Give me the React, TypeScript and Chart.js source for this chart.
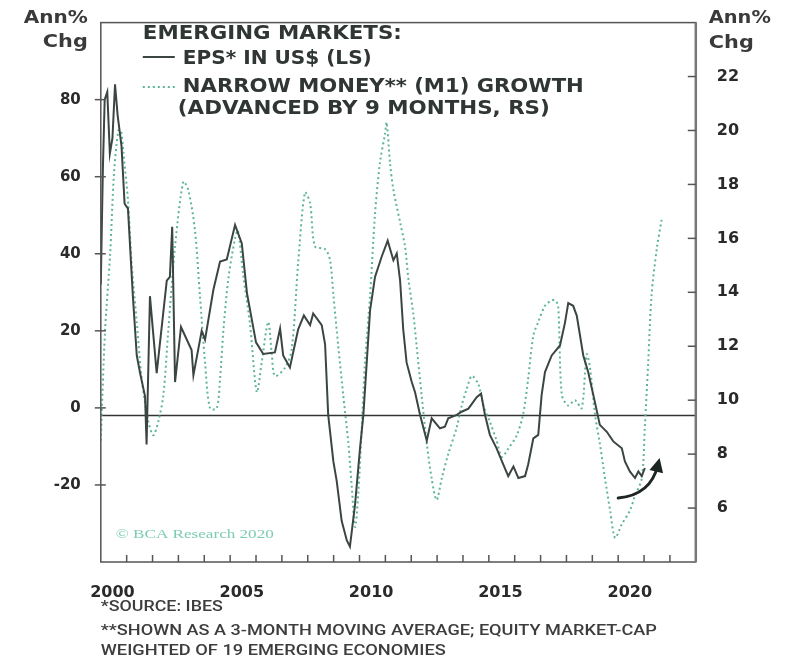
import React, { useEffect, useRef } from 'react';
import { Chart, registerables } from 'chart.js';

Chart.register(...registerables);

// ---------- DATA ----------
const epsYears = [2000.00, 2000.08, 2000.15, 2000.25, 2000.35, 2000.45, 2000.55, 2000.65, 2000.80, 2000.92, 2001.05, 2001.24, 2001.39, 2001.52, 2001.71, 2001.77, 2001.90, 2002.16, 2002.55, 2002.67, 2002.76, 2002.87, 2003.10, 2003.51, 2003.58, 2003.90, 2004.03, 2004.35, 2004.61, 2004.87, 2005.19, 2005.45, 2005.65, 2006.00, 2006.28, 2006.73, 2006.93, 2007.05, 2007.31, 2007.63, 2007.85, 2008.09, 2008.21, 2008.54, 2008.67, 2008.79, 2008.99, 2009.12, 2009.31, 2009.51, 2009.63, 2009.83, 2010.02, 2010.15, 2010.28, 2010.41, 2010.60, 2010.86, 2011.09, 2011.31, 2011.44, 2011.57, 2011.69, 2011.82, 2012.02, 2012.15, 2012.34, 2012.60, 2012.79, 2013.11, 2013.30, 2013.43, 2013.76, 2013.95, 2014.21, 2014.53, 2014.70, 2014.85, 2015.04, 2015.30, 2015.56, 2015.75, 2015.95, 2016.14, 2016.40, 2016.52, 2016.72, 2016.91, 2017.04, 2017.17, 2017.43, 2017.75, 2017.94, 2018.07, 2018.26, 2018.40, 2018.65, 2018.84, 2019.10, 2019.29, 2019.56, 2019.81, 2020.14, 2020.26, 2020.45, 2020.65, 2020.78, 2020.91, 2021.03];
const epsValues = [32, 62, 80, 82, 66, 70, 84, 76, 68, 53, 51.7, 29, 13.6, 9, 3, -9.5, 29, 9, 33, 34, 47, 6.7, 21, 15, 8.5, 20, 17.7, 30.6, 38, 38.5, 47.5, 42.7, 29.8, 17, 14, 14.4, 20.6, 13.6, 10.5, 20.4, 24, 21.5, 24.5, 21.5, 16.5, -1.8, -13.9, -19, -29.3, -34.4, -36, -25, -10.5, -1.8, 11.8, 25.4, 34, 39.3, 43.4, 38.3, 40.1, 33, 20.4, 11.8, 6.7, 4, -1.8, -8.5, -2.7, -5.3, -4.9, -2.7, -1.8, -1, -0.2, 2.8, 3.7, -1.8, -7, -10.5, -14.7, -17.7, -15.2, -18.2, -17.7, -14.7, -7.9, -7, 3.3, 9.3, 13.6, 16.2, 22, 27.2, 26.5, 23.9, 13.6, 9.3, 1.5, -4.4, -6.2, -8.7, -10.5, -13.9, -16.5, -18.2, -16.5, -17.7, -15.6];

const m1Years = [2000.00, 2000.16, 2000.36, 2000.51, 2000.68, 2000.78, 2000.87, 2001.06, 2001.19, 2001.39, 2001.58, 2001.84, 2002.03, 2002.22, 2002.42, 2002.61, 2002.87, 2003.19, 2003.38, 2003.64, 2003.83, 2004.03, 2004.22, 2004.48, 2004.61, 2004.74, 2004.93, 2005.19, 2005.30, 2005.51, 2005.77, 2006.03, 2006.22, 2006.47, 2006.61, 2006.73, 2007.12, 2007.38, 2007.63, 2007.89, 2008.09, 2008.28, 2008.67, 2008.86, 2008.99, 2009.18, 2009.37, 2009.57, 2009.70, 2009.83, 2009.95, 2010.09, 2010.21, 2010.41, 2010.60, 2010.79, 2010.99, 2011.05, 2011.18, 2011.31, 2011.57, 2011.76, 2011.89, 2012.08, 2012.21, 2012.40, 2012.60, 2012.79, 2012.98, 2013.18, 2013.43, 2013.76, 2013.95, 2014.14, 2014.34, 2014.59, 2014.79, 2015.04, 2015.30, 2015.50, 2015.75, 2016.08, 2016.33, 2016.52, 2016.72, 2016.91, 2017.17, 2017.43, 2017.56, 2017.68, 2017.82, 2018.07, 2018.33, 2018.59, 2018.78, 2018.91, 2019.10, 2019.29, 2019.49, 2019.69, 2019.88, 2020.14, 2020.45, 2020.63, 2020.91, 2021.03, 2021.16, 2021.29, 2021.49, 2021.68];
const m1Values = [8.5, 12.5, 15.4, 18.4, 20.0, 20.0, 19.2, 17.3, 15.1, 12.9, 10.8, 9.2, 8.7, 9.2, 10.2, 12.6, 15.7, 18.1, 17.8, 16.3, 13.9, 11.4, 9.7, 9.7, 10.8, 12.6, 14.5, 16.0, 16.3, 14.6, 12.8, 10.3, 11.4, 12.9, 11.7, 10.9, 11.2, 11.9, 15.1, 17.7, 17.3, 15.7, 15.6, 15.2, 13.9, 12.0, 10.2, 8.4, 6.8, 5.3, 6.5, 9.0, 11.4, 13.9, 16.9, 18.8, 19.9, 20.3, 18.8, 17.8, 16.6, 15.7, 14.5, 13.2, 12.0, 10.2, 8.4, 7.1, 6.3, 7.1, 8.0, 9.0, 9.8, 10.4, 10.9, 10.6, 9.8, 9.2, 8.5, 7.9, 8.2, 8.7, 9.5, 10.8, 12.4, 12.9, 13.5, 13.7, 13.7, 13.5, 10.2, 9.8, 10.0, 9.7, 11.7, 11.2, 9.5, 8.4, 7.1, 5.9, 4.9, 5.4, 5.9, 6.4, 7.1, 9.0, 11.4, 13.9, 15.6, 16.7];

const leftTicks = [-20, 0, 20, 40, 60, 80];
const rightTicks = [6, 8, 10, 12, 14, 16, 18, 20, 22];
const yearLabels = [2000, 2005, 2010, 2015, 2020];
const xMin = 2000;
const xMax = 2023;
const leftMin = -40;
const leftMax = 100;
const rightMin = 4;
const rightMax = 24;
const referenceLine = -2;
// arrow annotation (in data units: years / left-axis %)
const arrowStart = [2020.0, -23.4];
const arrowCtrl = [2021.25, -22.6];
const arrowEnd = [2021.6, -13.0];

const EPS_COLOR = '#3b4543';
const M1_COLOR = '#5fb597';
const TEXT_COLOR = '#2f3634';

function fitText(ctx: CanvasRenderingContext2D, text: string, x: number, y: number, w: number, font: string, color: string, align: 'left' | 'right' = 'left') {
  ctx.save();
  ctx.font = font;
  ctx.fillStyle = color;
  ctx.textBaseline = 'middle';
  ctx.textAlign = align;
  const m = ctx.measureText(text).width;
  const sx = m > 0 ? w / m : 1;
  ctx.translate(x, y);
  ctx.scale(sx, 1);
  ctx.fillText(text, 0, 0);
  ctx.restore();
}

const decorPlugin = {
  id: 'decor',
  beforeDatasetsDraw(chart: any) {
    const { ctx, chartArea: a, scales } = chart;
    const yz = scales.y.getPixelForValue(referenceLine);
    ctx.save();
    ctx.strokeStyle = '#333';
    ctx.lineWidth = 1.5;
    ctx.beginPath();
    ctx.moveTo(a.left, yz);
    ctx.lineTo(a.right, yz);
    ctx.stroke();
    ctx.restore();
  },
  afterDatasetsDraw(chart: any) {
    const { ctx, chartArea: a, scales } = chart;
    const sx = scales.x, sy = scales.y, sy1 = scales.y1;
    ctx.save();
    // frame
    ctx.strokeStyle = '#555';
    ctx.lineWidth = 1.5;
    ctx.strokeRect(a.left, a.top, a.right - a.left, a.bottom - a.top);
    ctx.strokeStyle = '#777';
    ctx.lineWidth = 2.5;
    ctx.beginPath();
    ctx.moveTo(a.right, a.top);
    ctx.lineTo(a.right, a.bottom);
    ctx.stroke();
    // bottom ticks (yearly, inside)
    ctx.strokeStyle = '#555';
    ctx.lineWidth = 1.5;
    for (let yr = Math.ceil(xMin) + 1; yr < xMax; yr++) {
      const px = sx.getPixelForValue(yr);
      ctx.beginPath();
      ctx.moveTo(px, a.bottom);
      ctx.lineTo(px, a.bottom - 7);
      ctx.stroke();
    }
    // left ticks
    for (const v of leftTicks) {
      const py = sy.getPixelForValue(v);
      ctx.beginPath();
      ctx.moveTo(a.left - 6, py);
      ctx.lineTo(a.left + 5, py);
      ctx.stroke();
    }
    // right ticks (inside)
    for (const v of rightTicks) {
      const py = sy1.getPixelForValue(v);
      ctx.beginPath();
      ctx.moveTo(a.right - 8, py);
      ctx.lineTo(a.right, py);
      ctx.stroke();
    }
    // arrow
    const p0 = [sx.getPixelForValue(arrowStart[0]), sy.getPixelForValue(arrowStart[1])];
    const pc = [sx.getPixelForValue(arrowCtrl[0]), sy.getPixelForValue(arrowCtrl[1])];
    const p1 = [sx.getPixelForValue(arrowEnd[0]), sy.getPixelForValue(arrowEnd[1])];
    ctx.strokeStyle = '#1e2624';
    ctx.fillStyle = '#1e2624';
    ctx.lineWidth = 3;
    ctx.lineCap = 'round';
    const ang = Math.atan2(p1[1] - pc[1], p1[0] - pc[0]);
    const back = 8;
    const endX = p1[0] - back * Math.cos(ang);
    const endY = p1[1] - back * Math.sin(ang);
    ctx.beginPath();
    ctx.moveTo(p0[0], p0[1]);
    ctx.quadraticCurveTo(pc[0], pc[1], endX, endY);
    ctx.stroke();
    const hl = 14, hw = 7;
    ctx.beginPath();
    ctx.moveTo(p1[0], p1[1]);
    ctx.lineTo(p1[0] - hl * Math.cos(ang) + hw * Math.sin(ang), p1[1] - hl * Math.sin(ang) - hw * Math.cos(ang));
    ctx.lineTo(p1[0] - hl * Math.cos(ang) - hw * Math.sin(ang), p1[1] - hl * Math.sin(ang) + hw * Math.cos(ang));
    ctx.closePath();
    ctx.fill();
    ctx.restore();
  },
  afterDraw(chart: any) {
    const { ctx, chartArea: a } = chart;
    const bold = (s: number) => `bold ${s}px "DejaVu Sans"`;
    // axis unit titles
    fitText(ctx, 'Ann%', a.left - 13, 19, 64, bold(17), '#3a3a3a', 'right');
    fitText(ctx, 'Chg', a.left - 13, 43, 45, bold(17), '#3a3a3a', 'right');
    fitText(ctx, 'Ann%', a.right + 13, 19, 62, bold(17), '#3a3a3a', 'left');
    fitText(ctx, 'Chg', a.right + 13, 44, 45, bold(17), '#3a3a3a', 'left');
    // legend block
    const lx = a.left + 42;
    fitText(ctx, 'EMERGING MARKETS:', lx, 34, 259, bold(19), TEXT_COLOR);
    ctx.save();
    ctx.strokeStyle = EPS_COLOR;
    ctx.lineWidth = 2;
    ctx.beginPath();
    ctx.moveTo(lx, 57);
    ctx.lineTo(lx + 32, 57);
    ctx.stroke();
    ctx.strokeStyle = M1_COLOR;
    ctx.setLineDash([2, 3]);
    ctx.beginPath();
    ctx.moveTo(lx, 87);
    ctx.lineTo(lx + 32, 87);
    ctx.stroke();
    ctx.restore();
    fitText(ctx, 'EPS* IN US$ (LS)', lx + 40, 59, 189, bold(19), TEXT_COLOR);
    fitText(ctx, 'NARROW MONEY** (M1) GROWTH', lx + 40, 87, 401, bold(19), TEXT_COLOR);
    fitText(ctx, '(ADVANCED BY 9 MONTHS, RS)', lx + 35, 109, 372, bold(19), TEXT_COLOR);
    // copyright
    fitText(ctx, '\u00A9 BCA Research 2020', a.left + 15, 535, 158, '13px "Liberation Serif"', '#7ccdb0');
    // footnotes
    const fn = '500 15px Roboto';
    fitText(ctx, '*SOURCE: IBES', a.left, 607, 122, fn, '#3d3d3d');
    fitText(ctx, '**SHOWN AS A 3-MONTH MOVING AVERAGE; EQUITY MARKET-CAP', a.left, 631, 556, fn, '#3d3d3d');
    fitText(ctx, 'WEIGHTED OF 19 EMERGING ECONOMIES', a.left, 651, 345, fn, '#3d3d3d');
  },
};

export default function App() {
  const ref = useRef<HTMLCanvasElement | null>(null);
  useEffect(() => {
    if (!ref.current) return;
    const tickFont = { family: 'DejaVu Sans', weight: 'bold' as const, size: 15 };
    const chart = new Chart(ref.current, {
      type: 'line',
      data: {
        datasets: [
          {
            label: 'EPS* in US$ (LS)',
            data: epsYears.map((x, i) => ({ x, y: epsValues[i] })),
            yAxisID: 'y',
            borderColor: EPS_COLOR,
            borderWidth: 2,
            pointRadius: 0,
            tension: 0,
            fill: false,
          },
          {
            label: 'Narrow money (M1) growth (RS)',
            data: m1Years.map((x, i) => ({ x, y: m1Values[i] })),
            yAxisID: 'y1',
            borderColor: M1_COLOR,
            borderWidth: 2,
            borderDash: [2, 3],
            pointRadius: 0,
            tension: 0.3,
            fill: false,
          },
        ],
      },
      options: {
        animation: false,
        responsive: false,
        maintainAspectRatio: false,
        layout: { padding: { top: 17, left: 0, right: 0, bottom: 0 } },
        plugins: { legend: { display: false }, tooltip: { enabled: false } },
        scales: {
          x: {
            type: 'linear',
            min: xMin,
            max: xMax,
            afterBuildTicks: (s: any) => {
              s.ticks = yearLabels.map((v) => ({ value: v + 0.45 }));
            },
            ticks: {
              autoSkip: false,
              maxRotation: 0,
              padding: 13,
              color: '#2a2a2a',
              font: { family: 'DejaVu Sans', weight: 'bold', size: 16 },
              callback: (v: any) => String(Math.floor(Number(v))),
            },
            grid: { display: false },
            border: { display: false },
            afterFit: (s: any) => {
              s.height = 97;
            },
          },
          y: {
            position: 'left',
            min: leftMin,
            max: leftMax,
            afterBuildTicks: (s: any) => {
              s.ticks = leftTicks.map((v) => ({ value: v }));
            },
            ticks: { padding: 12, color: '#2a2a2a', font: tickFont },
            grid: { display: false },
            border: { display: false },
            afterFit: (s: any) => {
              s.width = 100.8;
            },
          },
          y1: {
            position: 'right',
            min: rightMin,
            max: rightMax,
            afterBuildTicks: (s: any) => {
              s.ticks = rightTicks.map((v) => ({ value: v }));
            },
            ticks: { padding: 13, color: '#2a2a2a', font: { family: 'DejaVu Sans', weight: 'bold', size: 16 } },
            grid: { display: false },
            border: { display: false },
            afterFit: (s: any) => {
              s.width = 90.2;
            },
          },
        },
      },
      plugins: [decorPlugin],
    });
    return () => chart.destroy();
  }, []);
  return (
    <div style={{ position: 'absolute', left: 0, top: 0, width: 786, height: 659, background: '#fff' }}>
      <canvas ref={ref} width={786} height={659} style={{ width: 786, height: 659, display: 'block' }} />
    </div>
  );
}
